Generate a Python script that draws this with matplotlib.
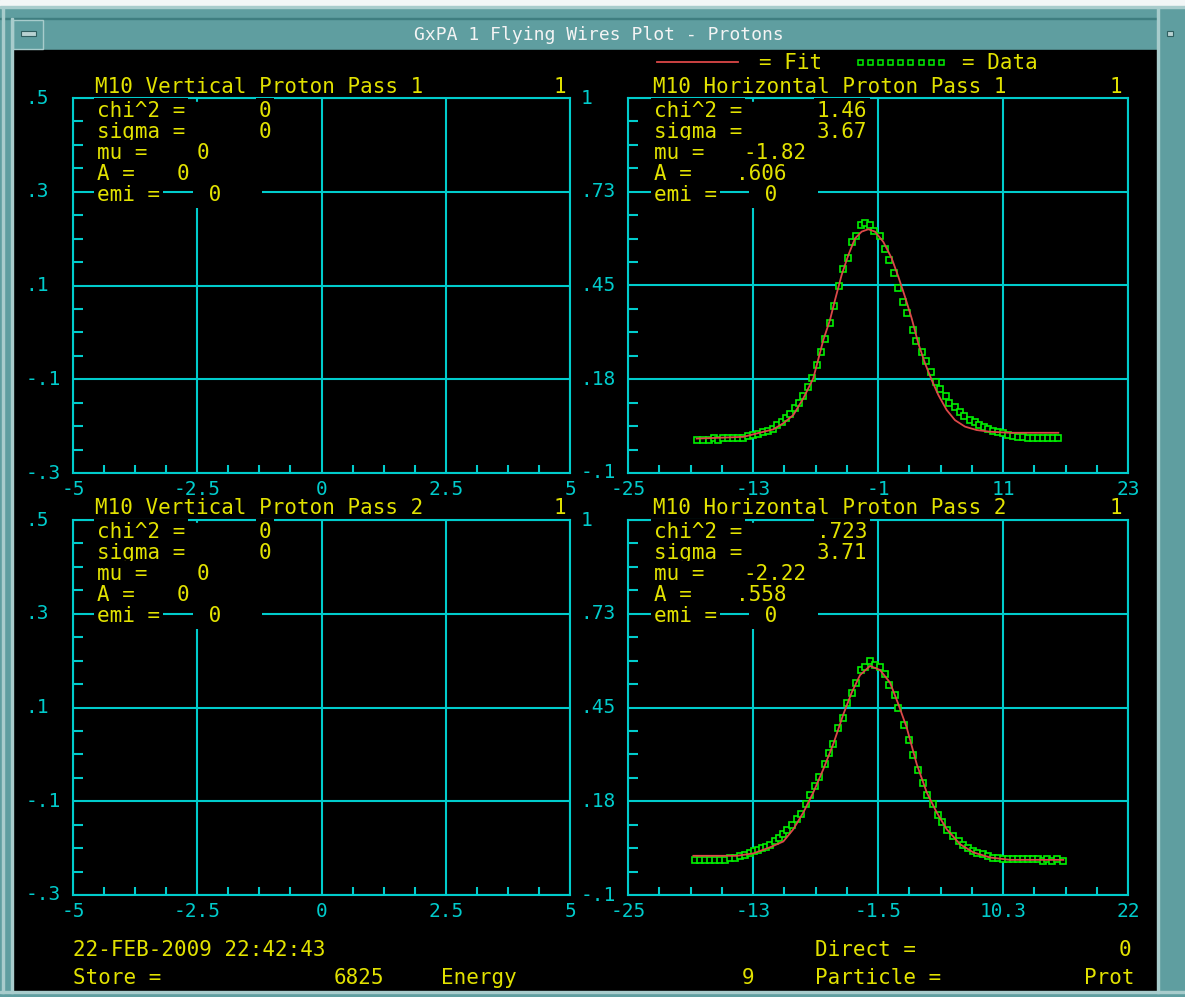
import matplotlib
matplotlib.use("Agg")
import matplotlib.pyplot as plt
from matplotlib.lines import Line2D
from matplotlib.patches import Rectangle
from matplotlib.ticker import AutoMinorLocator

# ============================
# Data
# ============================
# Horizontal pass 1 (data squares + red fit)
h1_x = [-18.35, -17.77, -17.20, -16.74, -16.33, -15.85, -15.37, -14.89, -14.41, -13.93,
        -13.45, -12.97, -12.49, -12.01, -11.53, -11.11, -10.67, -10.22, -9.83, -9.45,
        -8.94, -8.58, -8.17, -7.69, -7.31, -6.83, -6.44, -6.12, -5.58, -5.22,
        -4.72, -4.36, -3.85, -3.47, -3.14, -2.60, -2.22, -1.77, -1.36, -0.81,
        -0.30, 0.03, 0.56, 0.95, 1.43, 1.78, 2.33, 2.68, 3.25, 3.58,
        4.09, 4.60, 4.95, 5.50, 5.84, 6.39, 6.90, 7.26, 7.80, 8.31,
        8.70, 9.20, 9.59, 10.07, 10.55, 11.03, 11.51, 11.99, 12.47, 12.95,
        13.43, 13.91, 14.39, 14.87, 15.35, 15.83, 16.31]
h1_y = [-0.003, -0.003, -0.003, 0.004, -0.003, 0.004, 0.004, 0.004, 0.004, 0.004,
        0.009, 0.011, 0.014, 0.019, 0.024, 0.030, 0.041, 0.050, 0.061, 0.073,
        0.090, 0.104, 0.126, 0.153, 0.180, 0.217, 0.255, 0.293, 0.341, 0.391,
        0.449, 0.498, 0.530, 0.578, 0.595, 0.627, 0.632, 0.627, 0.611, 0.595,
        0.557, 0.524, 0.488, 0.444, 0.401, 0.368, 0.319, 0.288, 0.255, 0.229,
        0.195, 0.168, 0.147, 0.126, 0.104, 0.094, 0.078, 0.067, 0.056, 0.050,
        0.040, 0.034, 0.029, 0.023, 0.019, 0.016, 0.012, 0.009, 0.007, 0.007,
        0.002, 0.002, 0.002, 0.002, 0.002, 0.002, 0.002]
h1_fit_x = [-18.41, -13.93, -12.65, -11.05, -10.09, -9.13, -8.17, -7.21, -6.25, -5.61,
            -5.13, -4.49, -3.85, -3.21, -2.57, -1.93, -1.29, -0.49, 0.31, 0.95,
            1.59, 2.23, 2.87, 3.51, 4.15, 4.79, 5.59, 6.39, 7.35, 8.47,
            9.75, 11.67, 16.31]
h1_fit_y = [0.001, 0.006, 0.016, 0.028, 0.046, 0.070, 0.119, 0.178, 0.290, 0.349,
            0.407, 0.481, 0.539, 0.588, 0.608, 0.615, 0.608, 0.578, 0.530, 0.476,
            0.417, 0.354, 0.280, 0.222, 0.173, 0.129, 0.085, 0.055, 0.036, 0.026,
            0.021, 0.018, 0.018]

# Horizontal pass 2
h2_x = [-18.70, -18.23, -17.76, -17.29, -16.82, -16.35, -15.88, -15.41, -14.94, -14.47,
        -14.00, -13.53, -13.13, -12.75, -12.38, -12.03, -11.65, -11.18, -10.81, -10.40,
        -10.03, -9.61, -9.14, -8.77, -8.27, -7.89, -7.42, -7.02, -6.51, -6.13,
        -5.70, -5.29, -4.82, -4.44, -3.91, -3.57, -3.07, -2.69, -2.22, -1.78,
        -1.31, -0.81, -0.47, 0.07, 0.41, 0.94, 1.41, 1.76, 2.26, 2.76,
        3.13, 3.64, 4.17, 4.55, 5.02, 5.58, 6.09, 6.46, 6.96, 7.46,
        7.84, 8.34, 8.87, 9.34, 9.81, 10.28, 10.75, 11.22, 11.69, 12.16,
        12.63, 13.10, 13.57, 14.04, 14.42, 14.89, 15.36, 15.92]
h2_y = [0.003, 0.003, 0.003, 0.003, 0.003, 0.003, 0.003, 0.010, 0.010, 0.015,
        0.017, 0.022, 0.028, 0.033, 0.038, 0.042, 0.047, 0.058, 0.068, 0.079,
        0.090, 0.106, 0.123, 0.139, 0.167, 0.193, 0.219, 0.247, 0.284, 0.316,
        0.343, 0.391, 0.418, 0.462, 0.494, 0.521, 0.560, 0.569, 0.585, 0.575,
        0.569, 0.548, 0.516, 0.488, 0.450, 0.398, 0.354, 0.310, 0.267, 0.230,
        0.193, 0.167, 0.134, 0.113, 0.090, 0.074, 0.059, 0.048, 0.038, 0.030,
        0.023, 0.019, 0.015, 0.010, 0.008, 0.005, 0.005, 0.005, 0.005, 0.005,
        0.005, 0.005, 0.005, -0.001, 0.005, -0.001, 0.005, -0.001]
h2_fit_x = [-18.86, -14.78, -13.22, -11.65, -10.40, -9.46, -8.52, -7.58, -6.64, -5.70,
            -4.76, -3.97, -3.19, -2.25, -1.31, -0.37, 0.41, 1.20, 2.14, 3.08,
            4.02, 4.96, 6.21, 7.46, 9.03, 10.91, 15.92]
h2_fit_y = [0.015, 0.015, 0.022, 0.040, 0.057, 0.093, 0.142, 0.201, 0.269, 0.343,
            0.430, 0.494, 0.545, 0.572, 0.560, 0.523, 0.460, 0.391, 0.284, 0.201,
            0.142, 0.093, 0.049, 0.025, 0.010, 0.003, 0.003]

# Axis ticks / labels
v_xticks = [-5, -2.5, 0, 2.5, 5]
v_xlabels = ["-5", "-2.5", "0", "2.5", "5"]
v_yticks = [-0.3, -0.1, 0.1, 0.3, 0.5]
v_ylabels = ["-.3", "-.1", ".1", ".3", ".5"]
h1_xticks = [-25, -13, -1, 11, 23]
h1_xlabels = ["-25", "-13", "-1", "11", "23"]
h2_xticks = [-25, -13.25, -1.5, 10.25, 22]
h2_xlabels = ["-25", "-13", "-1.5", "10.3", "22"]
h_yticks = [-0.1, 0.175, 0.45, 0.725, 1.0]
h_ylabels = ["-.1", ".18", ".45", ".73", "1"]

# Fit results shown in each panel
v1_stats = ["0", "0", "0", "0", "0"]
v2_stats = ["0", "0", "0", "0", "0"]
h1_stats = ["1.46", "3.67", "-1.82", ".606", "0"]
h2_stats = [".723", "3.71", "-2.22", ".558", "0"]

# ============================
# Style
# ============================
W, H = 1185, 997
CYAN = "#00cccc"
YELLOW = "#e2e200"
GREEN = "#00f000"
RED = "#dc4848"
TEAL = "#5f9ea0"
MONO = "DejaVu Sans Mono"
FS = 15

fig = plt.figure(figsize=(W / 100, H / 100), dpi=100)
fig.patch.set_facecolor(TEAL)

# window frame drawn in pixel coordinates
bg = fig.add_axes([0, 0, 1, 1], zorder=-5)
bg.set_xlim(0, W)
bg.set_ylim(H, 0)
bg.axis("off")
bg.add_patch(Rectangle((0, 0), W, 6, color="#f2f6f6"))
bg.add_patch(Rectangle((0, 6), W, 2, color="#a8cccc"))
bg.add_patch(Rectangle((0, 18), 1157, 1.5, color="#3f7e80"))
bg.add_patch(Rectangle((13, 50), 1144, 940, color="black"))
bg.add_patch(Rectangle((2, 8), 1.5, 985, color="#a8cccc"))
bg.add_patch(Rectangle((11, 18), 1.5, 975, color="#a8cccc"))
bg.add_patch(Rectangle((1157, 8), 1.5, 985, color="#a8cccc"))
bg.add_patch(Rectangle((0, 991), W, 1.5, color="#a8cccc"))
bg.add_patch(Rectangle((13, 20), 30, 29, fill=False, ec="#a8cccc", lw=1))
bg.add_patch(Rectangle((21, 31), 15, 5, fc="#b8d2d2", ec="#2f5f60", lw=0.8))
bg.add_patch(Rectangle((1167, 31), 6, 5, fc="#b8d2d2", ec="#2f5f60", lw=0.8))
bg.text(599, 35, "GxPA 1 Flying Wires Plot - Protons", color="#f4f4f4",
        family=MONO, fontsize=13, ha="center", va="center")


def ftext(x, y, s, color=YELLOW, ha="left", box=True, size=FS):
    kw = dict(color=color, family=MONO, fontsize=size, ha=ha, va="center")
    if box:
        kw["bbox"] = dict(facecolor="black", edgecolor="none", pad=2)
    fig.text(x / W, 1 - y / H, s, **kw)


def blank(x0, y0, x1, y1):
    # black area behind the text block, hides grid lines like the screen does
    fig.add_artist(Rectangle((x0 / W, 1 - y1 / H), (x1 - x0) / W, (y1 - y0) / H,
                             transform=fig.transFigure, color="black", zorder=2))


def make_panel(left, top, width, xlim, ylim, xticks, xlabels, yticks, ylabels):
    ax = fig.add_axes([left / W, 1 - (top + 375) / H, width / W, 375 / H])
    ax.set_facecolor("black")
    ax.set_xlim(*xlim)
    ax.set_ylim(*ylim)
    ax.set_xticks(xticks)
    ax.set_yticks(yticks)
    ax.set_xticklabels([])
    ax.set_yticklabels([])
    ax.xaxis.set_minor_locator(AutoMinorLocator(4))
    ax.yaxis.set_minor_locator(AutoMinorLocator(4))
    ax.tick_params(which="major", length=0)
    ax.tick_params(which="minor", direction="in", color=CYAN, width=1.5)
    ax.xaxis.set_tick_params(which="minor", length=5.8)
    ax.yaxis.set_tick_params(which="minor", length=7.2)
    ax.grid(True, which="major", color=CYAN, lw=1.5)
    ax.set_axisbelow(True)
    for sp in ax.spines.values():
        sp.set_color(CYAN)
        sp.set_linewidth(1.5)
    for v, lab in zip(xticks, xlabels):
        ax.text(v, -0.045, lab, transform=ax.get_xaxis_transform(), color=CYAN,
                family=MONO, fontsize=14, ha="center", va="center")
    for v, lab in zip(yticks, ylabels):
        ax.text(-0.095, v, lab, transform=ax.get_yaxis_transform(), color=CYAN,
                family=MONO, fontsize=14, ha="left", va="center")
    return ax


def stats_block(x0, y0, vals, right_x, mu_x, a_x, emi_x):
    blank(x0 - 2, y0 - 9, right_x + 3, y0 + 73)
    names = ["chi^2 =", "sigma =", "mu =", "A =", "emi ="]
    for i, name in enumerate(names):
        ftext(x0, y0 + 21 * i, name)
    ftext(right_x, y0, vals[0], ha="right")
    ftext(right_x, y0 + 21, vals[1], ha="right")
    ftext(mu_x, y0 + 42, vals[2])
    ftext(a_x, y0 + 63, vals[3])
    ftext(emi_x, y0 + 84, " " + vals[4] + "   ")


# ============================
# Panels
# ============================
ax_v1 = make_panel(73, 98, 497, (-5, 5), (-0.3, 0.5), v_xticks, v_xlabels, v_yticks, v_ylabels)
ax_h1 = make_panel(628, 98, 500, (-25, 23), (-0.1, 1.0), h1_xticks, h1_xlabels, h_yticks, h_ylabels)
ax_v2 = make_panel(73, 520, 497, (-5, 5), (-0.3, 0.5), v_xticks, v_xlabels, v_yticks, v_ylabels)
ax_h2 = make_panel(628, 520, 500, (-25, 22), (-0.1, 1.0), h2_xticks, h2_xlabels, h_yticks, h_ylabels)

for ax, dx, dy, fx, fy in [(ax_h1, h1_x, h1_y, h1_fit_x, h1_fit_y),
                           (ax_h2, h2_x, h2_y, h2_fit_x, h2_fit_y)]:
    ax.plot(dx, dy, linestyle="none", marker="s", ms=4.0, mfc="black",
            mec=GREEN, mew=1.2, zorder=2)
    ax.plot(fx, fy, color=RED, lw=1.3, zorder=2.2)

# titles
ftext(95, 87, "M10 Vertical Proton Pass 1", box=False)
ftext(553, 87, "1", box=False)
ftext(653, 87, "M10 Horizontal Proton Pass 1", box=False)
ftext(1110, 87, "1", box=False)
ftext(95, 508, "M10 Vertical Proton Pass 2", box=False)
ftext(553, 508, "1", box=False)
ftext(653, 508, "M10 Horizontal Proton Pass 2", box=False)
ftext(1110, 508, "1", box=False)

stats_block(97, 111, v1_stats, 271, 197, 177, 196)
stats_block(654, 111, h1_stats, 867, 743, 736, 752)
stats_block(97, 532, v2_stats, 271, 197, 177, 196)
stats_block(654, 532, h2_stats, 867, 743, 736, 752)

# legend
handles = [Line2D([], [], color=RED, lw=1.3),
           Line2D([], [], linestyle="none", marker="s", ms=3.6, mfc="black",
                  mec=GREEN, mew=1.1)]
leg = fig.legend(handles, ["= Fit", "= Data"], ncol=2, numpoints=9,
                 loc="center left", bbox_to_anchor=(632 / W, 1 - 63 / H),
                 frameon=False, prop=dict(family=MONO, size=FS),
                 handlelength=4.5, handletextpad=0.7, columnspacing=1.5)
for t in leg.get_texts():
    t.set_color(YELLOW)

# footer
ftext(73, 950, "22-FEB-2009 22:42:43", box=False)
ftext(815, 950, "Direct =", box=False)
ftext(1131, 950, "0", ha="right", box=False)
ftext(73, 978, "Store =", box=False)
ftext(384, 978, "6825", ha="right", box=False)
ftext(441, 978, "Energy", box=False)
ftext(754, 978, "9", ha="right", box=False)
ftext(815, 978, "Particle =", box=False)
ftext(1134, 978, "Prot", ha="right", box=False)

fig.savefig("out.png", dpi=100, facecolor=fig.get_facecolor())
